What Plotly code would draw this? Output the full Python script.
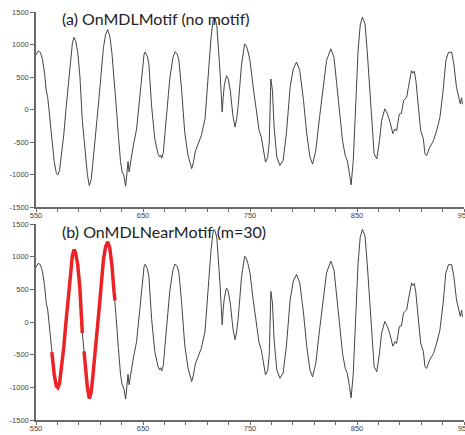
import plotly.graph_objects as go

# ---- data ----
x_vals = [550, 552, 554, 556, 558, 559.5, 561, 563, 564.8, 567, 569, 570.5, 572, 574, 576, 578,
          580, 582, 584, 585.5, 587, 589, 591, 593.3, 594.9, 596.5, 598, 599.8, 601.5, 603, 605,
          607, 609, 611, 613, 615, 617, 619, 621, 623, 623.8, 625, 627, 629, 630.5, 632, 633.8,
          635, 636, 637, 638.5, 641, 644, 646.5, 649, 651, 652, 654, 655.5, 658, 661, 664, 665.5,
          666.5, 667.5, 669, 672, 675, 678, 680, 682, 683.5, 686, 689, 692, 695.5, 697, 699,
          701.5, 704.5, 708, 711, 713.5, 715.5, 716.5, 717.5, 719, 722, 723, 724, 725, 726, 728,
          729.5, 731.5, 734, 736, 737.5, 739, 742, 745, 746.5, 748, 750, 753, 756, 758.5, 760.5,
          762.5, 764.5, 766.5, 768, 769.5, 771, 772.5, 775, 778, 781, 784, 787.5, 790.5, 793.5,
          796.5, 800, 803, 806, 808.5, 811.5, 815, 818.5, 821.5, 825.5, 828.5, 831, 834, 836.5,
          839, 841, 843, 844.5, 846.5, 849, 851, 853, 855, 856, 857.5, 859.5, 862, 864.5, 866,
          868.5, 871, 873, 876, 877, 878.5, 881, 883.5, 885.5, 887, 889.5, 891.5, 893.5, 896.5,
          898, 900, 901, 902, 903.5, 905, 907.5, 909.5, 912, 913.5, 915, 918, 921.5, 924.5,
          927.5, 930.5, 933, 935.5, 938.5, 940.5, 943, 945.5, 946.5, 947.8, 948.5]
y_vals = [840, 900, 880, 780, 560, 300, 180, -150, -460, -800, -980, -1005, -940, -700, -380, 0,
          380, 750, 1020, 1110, 1060, 880, 520, -170, -450, -750, -1000, -1170, -1080, -850, -550,
          -150, 200, 600, 950, 1150, 1230, 1130, 860, 450, 330, 50, -400, -800, -960, -1010, -1180,
          -950, -800, -960, -800, -550, -300, 100, 580, 850, 885, 820, 700, 60, -450, -680, -730,
          -700, -750, -660, -90, 470, 800, 890, 850, 760, 320, -350, -700, -910, -820, -640,
          -530, -400, -140, 575, 1090, 1380, 1420, 1390, 1290, 575, 250, -40, 200, 370, 520,
          480, 300, -90, -270, -150, 60, 680, 1010, 980, 900, 750, 340, -70, -320, -420,
          -630, -810, -740, -500, 470, 290, -270, -730, -860, -780, -370, 340, 630, 730,
          600, 140, -370, -730, -840, -630, -120, 400, 750, 935, 800, 400, -70, -480,
          -710, -790, -990, -1160, -790, 140, 900, 1300, 1420, 1380, 1320, 910, 240, -370, -680,
          -760, -480, -170, 10, -20, -70, -200, -370, -300, -330, -70, -60, 140, 190,
          340, 520, 600, 560, 590, 450, 40, -320, -450, -680, -710, -580, -480, -320,
          -120, 290, 750, 880, 880, 700, 340, 140, 90, 180, 80]

motif_starts = [564.8, 594.9]
motif_ends = [593.3, 623.8]

panel_titles = ["(a) OnMDLMotif (no motif)", "(b) OnMDLNearMotif (m=30)"]

x_tickvals = list(range(550, 951, 20))
x_ticktext = [str(v) if (v - 550) % 100 == 0 else "" for v in x_tickvals]
y_tickvals = [-1500, -1000, -500, 0, 500, 1000, 1500]
y_ticktext = [str(v) for v in y_tickvals]

LINE_COLOR = "#444444"
RED = "rgb(236,34,38)"
AXIS_COLOR = "#6a6a6a"

fig = go.Figure()

fig.add_trace(go.Scatter(x=x_vals, y=y_vals, mode="lines",
                         line=dict(color=LINE_COLOR, width=1),
                         xaxis="x", yaxis="y", hoverinfo="skip", showlegend=False))
fig.add_trace(go.Scatter(x=x_vals, y=y_vals, mode="lines",
                         line=dict(color=LINE_COLOR, width=1),
                         xaxis="x2", yaxis="y2", hoverinfo="skip", showlegend=False))
for s, e in zip(motif_starts, motif_ends):
    mx = [xv for xv in x_vals if s <= xv <= e]
    my = [yv for xv, yv in zip(x_vals, y_vals) if s <= xv <= e]
    fig.add_trace(go.Scatter(x=mx, y=my, mode="lines",
                             line=dict(color=RED, width=3.5),
                             xaxis="x2", yaxis="y2", hoverinfo="skip", showlegend=False))

tick_font = dict(family="Liberation Sans, Arial, sans-serif", size=7.5, color="#444444")

xaxis_common = dict(range=[550, 950], tickmode="array", tickvals=x_tickvals, ticktext=x_ticktext,
                    ticks="outside", ticklen=3, tickwidth=1, tickcolor=AXIS_COLOR,
                    showline=True, linecolor=AXIS_COLOR, linewidth=1.5, showgrid=False,
                    zeroline=False, tickfont=tick_font, fixedrange=True, automargin=False,
                    ticklabelstandoff=-3, ticklabeloverflow="allow")
yaxis_common = dict(range=[-1500, 1500], tickmode="array", tickvals=y_tickvals, ticktext=y_ticktext,
                    ticks="outside", ticklen=4, tickwidth=1, tickcolor=AXIS_COLOR,
                    showline=True, linecolor=AXIS_COLOR, linewidth=1.5, showgrid=False,
                    zeroline=False, tickfont=tick_font, fixedrange=True, automargin=False,
                    ticklabeloverflow="allow")

fig.update_layout(
    width=465, height=435,
    margin=dict(l=36, r=1, t=12, b=15, autoexpand=False),
    paper_bgcolor="white", plot_bgcolor="white",
    xaxis=dict(domain=[0, 1], anchor="y", **xaxis_common),
    yaxis=dict(domain=[0.522, 1.0], anchor="x", **yaxis_common),
    xaxis2=dict(domain=[0, 1], anchor="y2", **xaxis_common),
    yaxis2=dict(domain=[0.0, 0.48], anchor="x2", **yaxis_common),
    showlegend=False,
)

title_font = dict(family="Lato, Open Sans, sans-serif", size=16, color="#222222")
fig.add_annotation(text=panel_titles[0], xref="paper", yref="paper", x=0.056, y=0.983,
                   xanchor="left", yanchor="middle", showarrow=False, font=title_font)
fig.add_annotation(text=panel_titles[1], xref="paper", yref="paper", x=0.056, y=0.461,
                   xanchor="left", yanchor="middle", showarrow=False, font=title_font)

fig.write_html("out.html", config={"displayModeBar": False},
               post_script="document.body.style.margin='0';document.body.style.overflow='hidden';")
